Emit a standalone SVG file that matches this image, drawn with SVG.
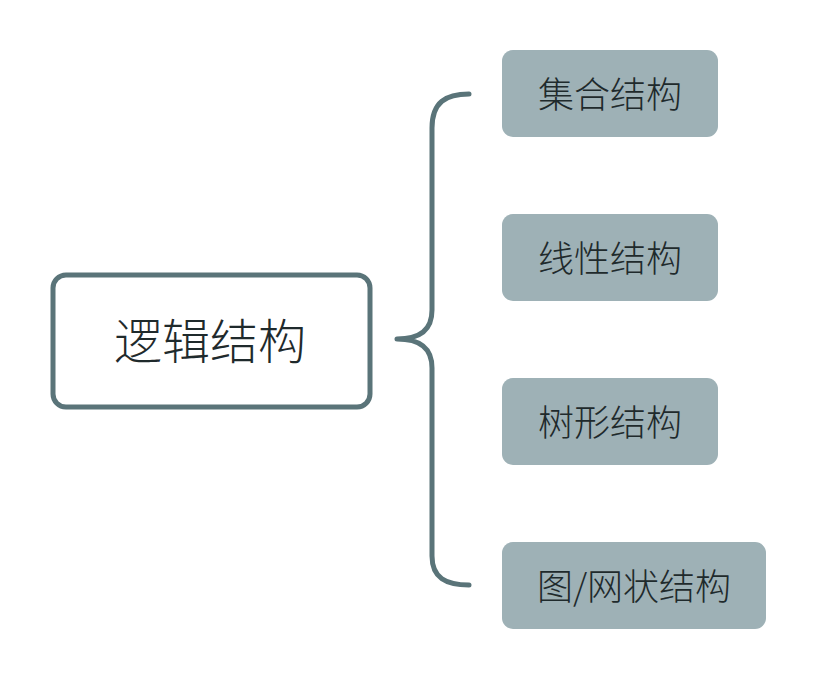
<svg xmlns="http://www.w3.org/2000/svg" width="816" height="680" viewBox="0 0 816 680">
<style>
.main{fill:#ffffff;stroke:#5a7479;stroke-width:5}
.sub{fill:#9eb1b6}
.t{font-family:"Noto Sans CJK SC","Noto Sans",sans-serif;fill:#1f2a2c;text-anchor:middle;dominant-baseline:central;font-weight:300}
.conn{fill:none;stroke:#5a7479;stroke-width:5;stroke-linecap:round;stroke-linejoin:round}
</style>
<rect width="816" height="680" fill="#ffffff"/>
<g id="connectors">
<path class="conn" d="M469,94 C446,94 432,102 432,128 L432,310 C432,330 420,339 397,339 C420,339 432,348 432,368 L432,556 C432,578 446,585 469,585"/>
</g>
<g id="root">
<rect class="main" x="53" y="275" width="317" height="132" rx="13"/>
<text class="t" x="210" y="338" font-size="48">逻辑结构</text>
</g>
<g id="n1">
<rect class="sub" x="502" y="50" width="216" height="87" rx="11"/>
<text class="t" x="610" y="92" font-size="36">集合结构</text>
</g>
<g id="n2">
<rect class="sub" x="502" y="214" width="216" height="87" rx="11"/>
<text class="t" x="610" y="256" font-size="36">线性结构</text>
</g>
<g id="n3">
<rect class="sub" x="502" y="378" width="216" height="87" rx="11"/>
<text class="t" x="610" y="420" font-size="36">树形结构</text>
</g>
<g id="n4">
<rect class="sub" x="502" y="542" width="264" height="87" rx="11"/>
<text class="t" x="634" y="584" font-size="36">图/网状结构</text>
</g>
</svg>
